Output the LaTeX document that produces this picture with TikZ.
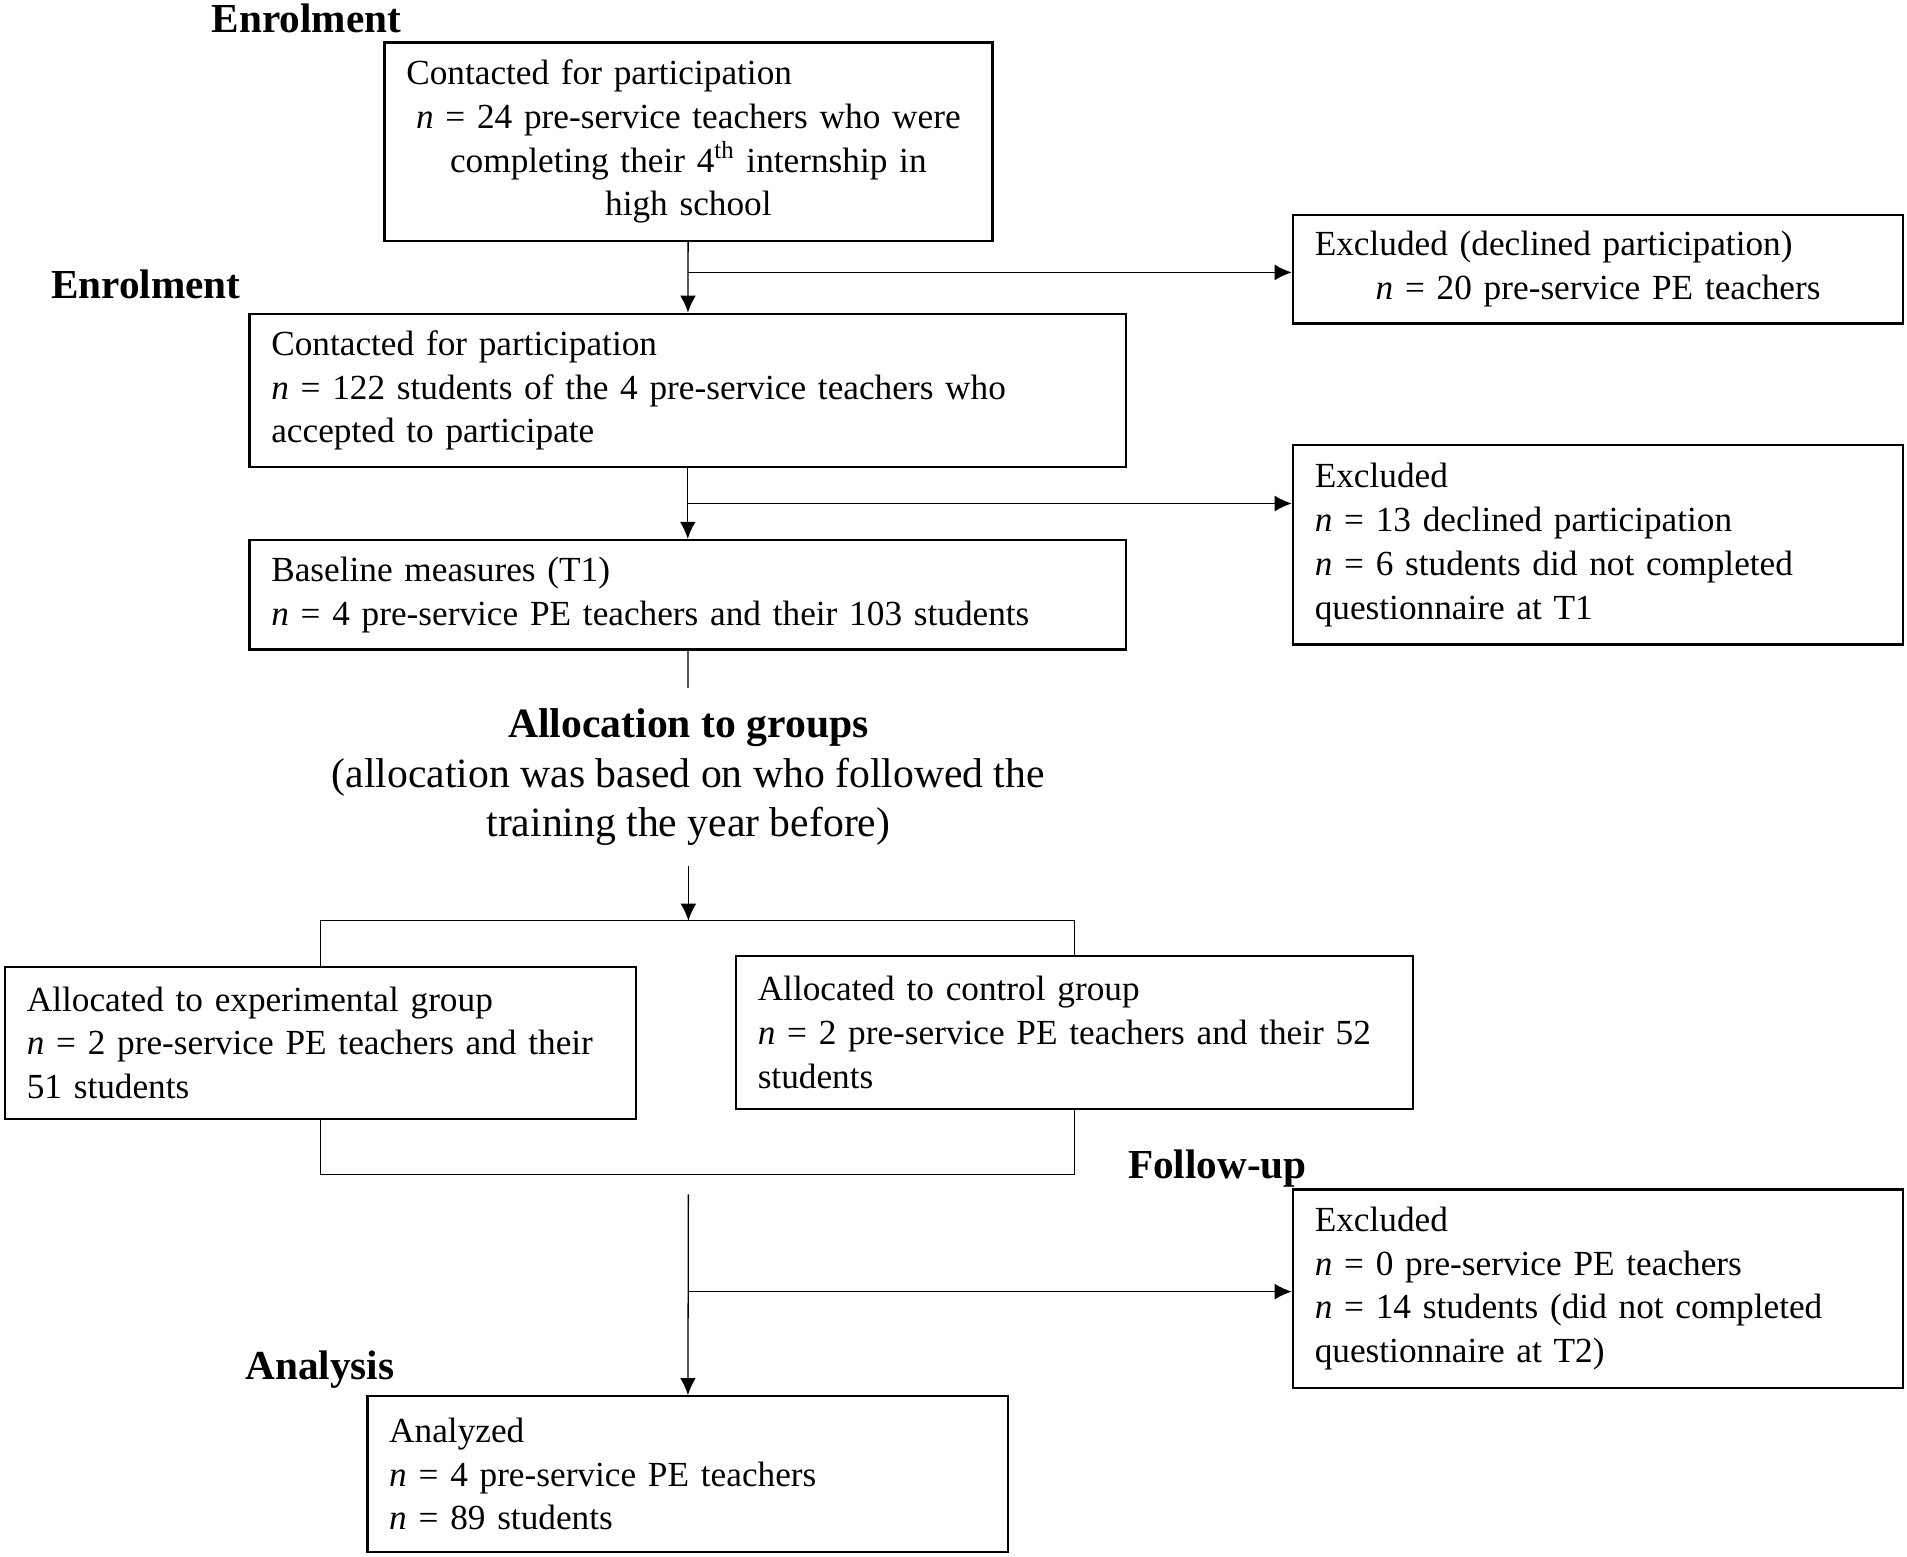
\documentclass[tikz,border=0pt]{standalone}
\usepackage{fontspec}
\setmainfont{Liberation Serif}
\usetikzlibrary{arrows.meta}

\begin{document}
\begin{tikzpicture}[x=0.02cm,y=-0.02cm,
  box/.style={draw,line width=1.1pt,inner xsep=0.36cm,inner ysep=0pt,align=left,
    font=\fontsize{16.5}{20.5}\selectfont},
  head/.style={font=\fontsize{19.3}{23}\selectfont\bfseries},
  arr/.style={-{Latex[length=0.28cm,width=0.26cm]},line width=0.6pt},
  link/.style={line width=0.6pt}]

\useasboundingbox (0,0) rectangle (1568,1280);

% stage headings
\node[head] (enrolA) at (252,15) {Enrolment};
\node[head] (enrolB) at (120,234) {Enrolment};
\node[head] (follow) at (1001,961) {Follow-up};
\node[head] (analys) at (263,1126) {Analysis};

% main column
\node[box,align=center,text width=9.28cm,minimum height=3.26cm] (teach) at (566,116.5)
  {\hbox to\hsize{Contacted for participation\hfil}\\
   \textit{n} = 24 pre-service teachers who were\\
   completing their 4\textsuperscript{th} internship in\\
   high school};
\node[box,text width=13.7cm,minimum height=2.52cm] (stud) at (565.5,321)
  {Contacted for participation\\
   \textit{n} = 122 students of the 4 pre-service teachers who\\
   accepted to participate};
\node[box,text width=13.7cm,minimum height=1.8cm] (base) at (565.5,489)
  {Baseline measures (T1)\\
   \textit{n} = 4 pre-service PE teachers and their 103 students};
\node[align=center,minimum height=2.92cm,inner sep=0pt,
  font=\fontsize{19.5}{23.2}\selectfont] (alloc) at (566,639)
  {\textbf{Allocation to groups}\\
   (allocation was based on who followed the\\
   training the year before)};
\node[box,text width=9.66cm,minimum height=2.5cm] (expt) at (263.5,857.5)
  {Allocated to experimental group\\
   \textit{n} = 2 pre-service PE teachers and their\\
   51 students};
\node[box,text width=10.42cm,minimum height=2.52cm] (ctrl) at (883.5,849)
  {Allocated to control group\\
   \textit{n} = 2 pre-service PE teachers and their 52\\
   students};
\node[box,text width=9.82cm,minimum height=2.56cm] (anal) at (565.5,1212)
  {Analyzed\\
   \textit{n} = 4 pre-service PE teachers\\
   \textit{n} = 89 students};

% excluded column
\node[box,align=center,text width=9.32cm,minimum height=1.78cm] (excA) at (1314,221.5)
  {\hbox to\hsize{Excluded (declined participation)\hfil}\\
   \textit{n} = 20 pre-service PE teachers};
\node[box,text width=9.32cm,minimum height=3.28cm] (excB) at (1314,448)
  {Excluded\\
   \textit{n} = 13 declined participation\\
   \textit{n} = 6 students did not completed\\
   questionnaire at T1};
\node[box,text width=9.32cm,minimum height=3.26cm] (excC) at (1314,1059.5)
  {Excluded\\
   \textit{n} = 0 pre-service PE teachers\\
   \textit{n} = 14 students (did not completed\\
   questionnaire at T2)};

% junctions
\coordinate (jA) at (566,224);
\coordinate (jB) at (566,414);
\coordinate (split) at (566,757);
\coordinate (merge) at (566,966);
\coordinate (jC0) at (566,982);
\coordinate (jC) at (566,1062);

\draw[arr] (teach) -- (stud);
\draw[arr] (jA) -- (jA -| excA.west);
\draw[arr] (stud) -- (base);
\draw[arr] (jB) -- (jB -| excB.west);
\draw[link] (base) -- (alloc);
\draw[arr] (alloc) -- (split);
\draw[link] (expt.north) -- (expt.north |- split) -- (ctrl.north |- split) -- (ctrl.north);
\draw[link] (expt.south) -- (expt.south |- merge) -- (ctrl.south |- merge) -- (ctrl.south);
\draw[arr] (jC0) -- (anal);
\draw[arr] (jC) -- (jC -| excC.west);

\end{tikzpicture}
\end{document}
